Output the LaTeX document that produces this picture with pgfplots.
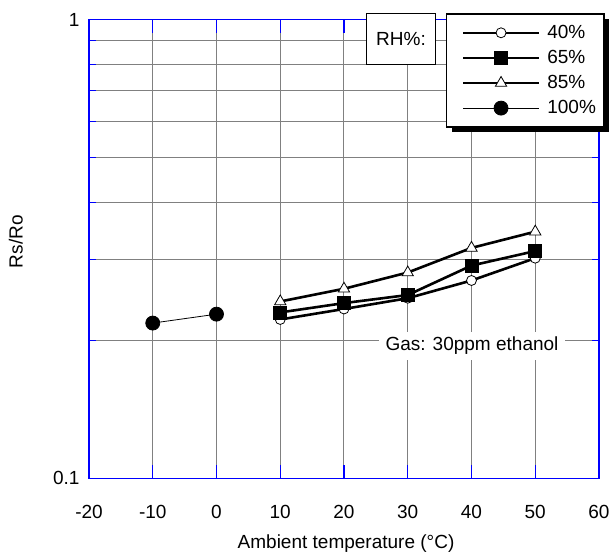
\documentclass[border=0pt]{standalone}
\usepackage{pgfplots}
\pgfplotsset{compat=1.18}
\usepackage{fontspec}
\setmainfont{Liberation Sans}
\usetikzlibrary{shadows}

\definecolor{axisblue}{RGB}{0,0,255}
\definecolor{gridgray}{RGB}{128,128,128}

% keep the legend frame's shadow off the sample lines drawn inside it
\makeatletter
\tikzset{no preactions/.code={\let\tikz@preactions\pgfutil@empty}}
\makeatother

% Rs/Ro against ambient temperature at several relative humidities
\pgfplotstableread{
T    R
10   0.222
20   0.234
30   0.247
40   0.270
50   0.302
}\rhforty
\pgfplotstableread{
T    R
10   0.230
20   0.241
30   0.251
40   0.291
50   0.313
}\rhsixtyfive
\pgfplotstableread{
T    R
10   0.243
20   0.259
30   0.281
40   0.318
50   0.345
}\rheightyfive
\pgfplotstableread{
T    R
-10  0.218
0    0.228
}\rhhundred

\begin{document}
\fontsize{19bp}{22bp}\selectfont
\begin{tikzpicture}[font=\fontsize{19bp}{22bp}\selectfont]
\path[use as bounding box] (0,0) rectangle (611bp,552bp);
\begin{axis}[
  at={(89bp,73.7bp)}, anchor=south west,
  scale only axis, width=510bp, height=458.6bp,
  xmin=-20, xmax=60,
  ymode=log, ymin=0.1, ymax=1,
  xtick={-20,-10,0,10,20,30,40,50,60},
  xticklabels={-20,-10,0,10,20,30,40,50,60},
  ytick={0.1,1}, yticklabels={0.1,1},
  minor ytick={0.2,0.3,0.4,0.5,0.6,0.7,0.8,0.9},
  xmajorgrids, yminorgrids,
  grid style={gridgray, line width=1bp},
  minor grid style={gridgray, line width=1bp},
  major grid style={gridgray, line width=1bp},
  axis line style={axisblue, line width=1.2bp},
  tick style={axisblue, line width=1.2bp},
  tick align=inside,
  major tick length=13bp, minor tick length=7bp,
  xticklabel style={yshift=-20bp},
  yticklabel style={xshift=-3bp},
  xlabel={Ambient temperature (°C)},
  ylabel={Rs/Ro},
  xlabel style={at={(axis description cs:0.504,-0.143)}, anchor=center},
  ylabel style={at={(axis description cs:-0.1433,0.516)}, anchor=center},
  clip=false,
  legend image code/.code={%
    \path (0bp,0bp);
    \draw[no preactions,mark repeat=2,mark phase=2,#1] plot coordinates {(9bp,0bp) (47bp,0bp) (85bp,0bp)};},
  legend style={
    at={(0.700,1.0146)}, anchor=north west,
    draw=black, line width=1.5bp, fill=white,
    drop shadow={shadow xshift=5bp, shadow yshift=-5bp, opacity=1, fill=black},
    inner xsep=6bp, inner ysep=9bp, row sep=5bp, column sep=5bp,
    font=\fontsize{19bp}{22bp}\selectfont,
    legend cell align=left,
  },
]
\addplot[black, line width=2.6bp, mark=*, mark size=5bp,
  mark options={fill=white, draw=black, line width=0.8bp}] table[x=T, y=R] {\rhforty};
\addlegendentry{40\%}
\addplot[black, line width=2.6bp, mark=square*, mark size=6.5bp,
  mark options={fill=black, draw=black, line width=0.5bp}] table[x=T, y=R] {\rhsixtyfive};
\addlegendentry{65\%}
\addplot[black, line width=2.6bp, mark=triangle*, mark size=6.5bp,
  mark options={fill=white, draw=black, line width=0.8bp}] table[x=T, y=R] {\rheightyfive};
\addlegendentry{85\%}
\addplot[black, line width=0.8bp, mark=*, mark size=7bp,
  mark options={fill=black, draw=black}] table[x=T, y=R] {\rhhundred};
\addlegendentry{100\%}

\node[fill=white, inner xsep=7bp, inner ysep=5bp] at (rel axis cs:0.751,0.2885) {Gas: 30ppm ethanol};
\end{axis}
\node[draw=black, line width=1bp, fill=white, minimum width=69bp, minimum height=51bp, inner sep=0pt]
  at (401bp,513.2bp) {RH\%:};
\end{tikzpicture}
\end{document}
